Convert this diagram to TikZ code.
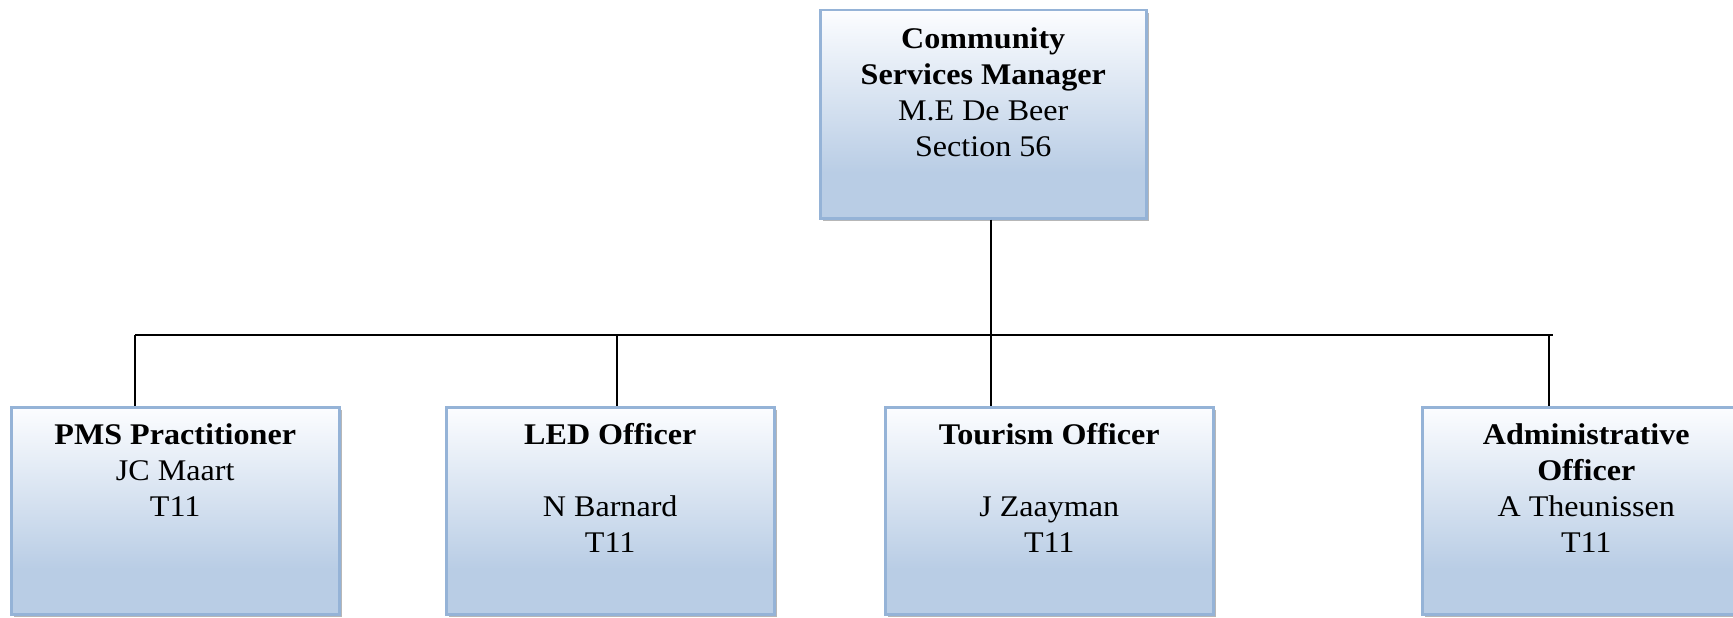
\documentclass[tikz,border=0pt]{standalone}
\usepackage{fontspec}
\setmainfont{Liberation Serif}[FakeStretch=1.07]
\usetikzlibrary{shadows,calc}
\definecolor{boxtop}{HTML}{FCFDFF}
\definecolor{boxblue}{HTML}{B9CDE5}
\definecolor{boxline}{HTML}{95B3D7}
% light-to-blue vertical fill of the position boxes
\pgfdeclareverticalshading{officefill}{100bp}{color(0bp)=(boxblue); color(25bp)=(boxblue); color(36bp)=(boxblue); color(75bp)=(boxtop); color(100bp)=(boxtop)}
\newcommand{\firstline}{\rule{0pt}{25pt}}
\begin{document}
\begin{tikzpicture}[x=1pt,y=-1pt,
  box/.style={draw=boxline, line width=2.5pt, shading=officefill,
    drop shadow={shadow xshift=3pt, shadow yshift=-3pt, fill=black!40, opacity=0.7},
    minimum width=328pt, minimum height=207pt, inner sep=0pt, anchor=north west},
  txt/.style={anchor=north, align=center, inner sep=0pt, font=\fontsize{30}{36}\selectfont},
  wire/.style={draw=black, line width=1.8pt}]
\useasboundingbox (0,0) rectangle (1733,618);
\clip (0,0) rectangle (1733,618);

% position boxes
\node[box, minimum width=326pt, minimum height=208pt] (mgr) at (819,9) {};
\node[box] (pms) at (10,406) {};
\node[box] (led) at (445,406) {};
\node[box] (tour) at (884,406) {};
\node[box] (adm) at (1421,406) {};

% box texts
\node[txt] (mgrT) at ($(mgr.north)+(0,14)$) {\firstline\textbf{Community}\\\textbf{Services Manager}\\M.E De Beer\\Section 56};
\node[txt] (pmsT) at ($(pms.north)+(0,13)$) {\firstline\textbf{PMS Practitioner}\\JC Maart\\T11};
\node[txt] (ledT) at ($(led.north)+(0,13)$) {\firstline\textbf{LED Officer}\\[36pt]N Barnard\\T11};
\node[txt] (tourT) at ($(tour.north)+(0,13)$) {\firstline\textbf{Tourism Officer}\\[36pt]J Zaayman\\T11};
\node[txt] (admT) at ($(adm.north)+(0,13)$) {\firstline\textbf{Administrative}\\\textbf{Officer}\\A Theunissen\\T11};

% connector points
\coordinate (bus) at (0,335);
\coordinate (m) at ($(mgr.south west)+(172,0)$);
\coordinate (d1) at ($(pms.north west)+(125,0)$);
\coordinate (d2) at ($(led.north west)+(172,0)$);
\coordinate (d3) at ($(tour.north west)+(107,0)$);
\coordinate (d4) at ($(adm.north west)+(128,0)$);

% connectors
\draw[wire] (m) -- (m |- bus);
\draw[wire] (d1 |- bus) -- ($(d4 |- bus)+(4,0)$);
\draw[wire] (d1 |- bus) -- (d1);
\draw[wire] (d2 |- bus) -- (d2);
\draw[wire] (d3 |- bus) -- (d3);
\draw[wire] (d4 |- bus) -- (d4);
\end{tikzpicture}
\end{document}
